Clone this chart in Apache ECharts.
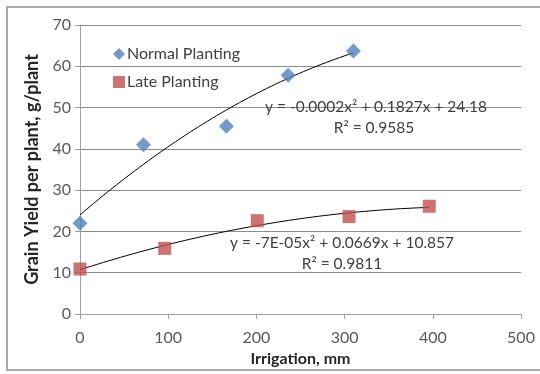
<!DOCTYPE html>
<html><head><meta charset="utf-8">
<script src="https://cdn.jsdelivr.net/npm/echarts@6/dist/echarts.min.js"></script>
<style>html,body{margin:0;padding:0;background:#fff}#c{width:540px;height:374px}</style>
</head><body><div id="c"></div>
<script>
const normalX = [0, 72, 166, 236, 310];
const normalY = [22.0, 41.0, 45.5, 57.8, 63.7];
const lateX = [0, 96, 201, 305, 396];
const lateY = [10.9, 15.9, 22.6, 23.6, 26.1];
const xTicks = [0, 100, 200, 300, 400, 500];
const yTicks = [0, 10, 20, 30, 40, 50, 60, 70];
const normalEq = ['y = -0.0002x\u00B2 + 0.1827x + 24.18', 'R\u00B2 = 0.9585'];
const lateEq = ['y = -7E-05x\u00B2 + 0.0669x + 10.857', 'R\u00B2 = 0.9811'];

// least-squares quadratic fit (as the spreadsheet trendline does)
function quadFit(xs, ys) {
  let S = [0,0,0,0,0], T = [0,0,0];
  for (let i = 0; i < xs.length; i++) {
    let p = 1;
    for (let k = 0; k < 5; k++) { S[k] += p; if (k < 3) T[k] += p * ys[i]; p *= xs[i]; }
  }
  const A = [[S[0],S[1],S[2],T[0]],[S[1],S[2],S[3],T[1]],[S[2],S[3],S[4],T[2]]];
  for (let i = 0; i < 3; i++) {
    for (let j = i + 1; j < 3; j++) {
      const f = A[j][i] / A[i][i];
      for (let k = i; k < 4; k++) A[j][k] -= f * A[i][k];
    }
  }
  const c = [0,0,0];
  for (let i = 2; i >= 0; i--) {
    let s = A[i][3];
    for (let k = i + 1; k < 3; k++) s -= A[i][k] * c[k];
    c[i] = s / A[i][i];
  }
  return c;
}
function curve(xs, ys) {
  const c = quadFit(xs, ys), out = [];
  const x0 = xs[0], x1 = xs[xs.length - 1];
  for (let i = 0; i <= 60; i++) {
    const x = x0 + (x1 - x0) * i / 60;
    out.push([x, c[0] + c[1] * x + c[2] * x * x]);
  }
  return out;
}
const FONT = 'Lato';
const eqStyle = { fontFamily: FONT, fontSize: 15.5, fill: '#404040', align: 'center', verticalAlign: 'middle' };
const chart = echarts.init(document.getElementById('c'));
chart.setOption({
  animation: false,
  backgroundColor: '#fff',
  grid: { left: 80, right: 19, top: 25, bottom: 60 },
  legend: {
    left: 108, top: 41, orient: 'vertical', itemGap: 12, itemWidth: 12, itemHeight: 12,
    data: [{name: 'Normal Planting', icon: 'diamond'}, {name: 'Late Planting', icon: 'rect'}],
    textStyle: { fontFamily: FONT, fontSize: 16, color: '#404040', padding: [0,0,0,-3] }
  },
  xAxis: {
    type: 'value', min: 0, max: 500, interval: 100,
    name: 'Irrigation, mm', nameLocation: 'middle', nameGap: 34,
    nameTextStyle: { fontFamily: FONT, fontSize: 16, fontWeight: 'bold', color: '#262626' },
    axisLine: { lineStyle: { color: '#a0a0a0' } },
    axisTick: { show: true, length: 5, lineStyle: { color: '#a0a0a0' } },
    splitLine: { show: false },
    axisLabel: { fontFamily: FONT, fontSize: 16, color: '#595959', margin: 16,
      formatter: v => xTicks.includes(v) ? String(v) : '' }
  },
  yAxis: {
    type: 'value', min: 0, max: 70, interval: 10,
    name: 'Grain Yield per plant, g/plant', nameLocation: 'middle', nameGap: 37,
    nameTextStyle: { fontFamily: FONT, fontSize: 18, fontWeight: 'bold', color: '#262626' },
    axisLine: { show: true, lineStyle: { color: '#a0a0a0' } },
    axisTick: { show: true, length: 5, lineStyle: { color: '#a0a0a0' } },
    splitLine: { lineStyle: { color: '#8c8c8c', width: 1 } },
    axisLabel: { fontFamily: FONT, fontSize: 16, color: '#595959', margin: 9,
      formatter: v => yTicks.includes(v) ? String(v) : '' }
  },
  series: [
    { name: 'Normal trend', type: 'line', data: curve(normalX, normalY), showSymbol: false,
      lineStyle: { color: '#000', width: 1 }, z: 2, silent: true },
    { name: 'Late trend', type: 'line', data: curve(lateX, lateY), showSymbol: false,
      lineStyle: { color: '#000', width: 1 }, z: 2, silent: true },
    { name: 'Normal Planting', type: 'scatter', symbol: 'diamond', symbolSize: 15,
      itemStyle: { color: '#4F81BD' }, z: 3,
      data: normalX.map((x, i) => [x, normalY[i]]) },
    { name: 'Late Planting', type: 'scatter', symbol: 'rect', symbolSize: 13,
      itemStyle: { color: '#C0504D' }, z: 3,
      data: lateX.map((x, i) => [x, lateY[i]]) }
  ],
  graphic: [
    { type: 'rect', shape: { x: 7, y: 7, width: 540, height: 363 },
      style: { fill: 'none', stroke: '#aaaaaa', lineWidth: 2 }, z: 0, silent: true },
    { type: 'text', x: 376, y: 107, style: Object.assign({ text: normalEq[0] }, eqStyle), z: 10 },
    { type: 'text', x: 374, y: 128, style: Object.assign({ text: normalEq[1] }, eqStyle), z: 10 },
    { type: 'text', x: 342, y: 243, style: Object.assign({ text: lateEq[0] }, eqStyle), z: 10 },
    { type: 'text', x: 342, y: 264, style: Object.assign({ text: lateEq[1] }, eqStyle), z: 10 }
  ]
});
</script></body></html>
